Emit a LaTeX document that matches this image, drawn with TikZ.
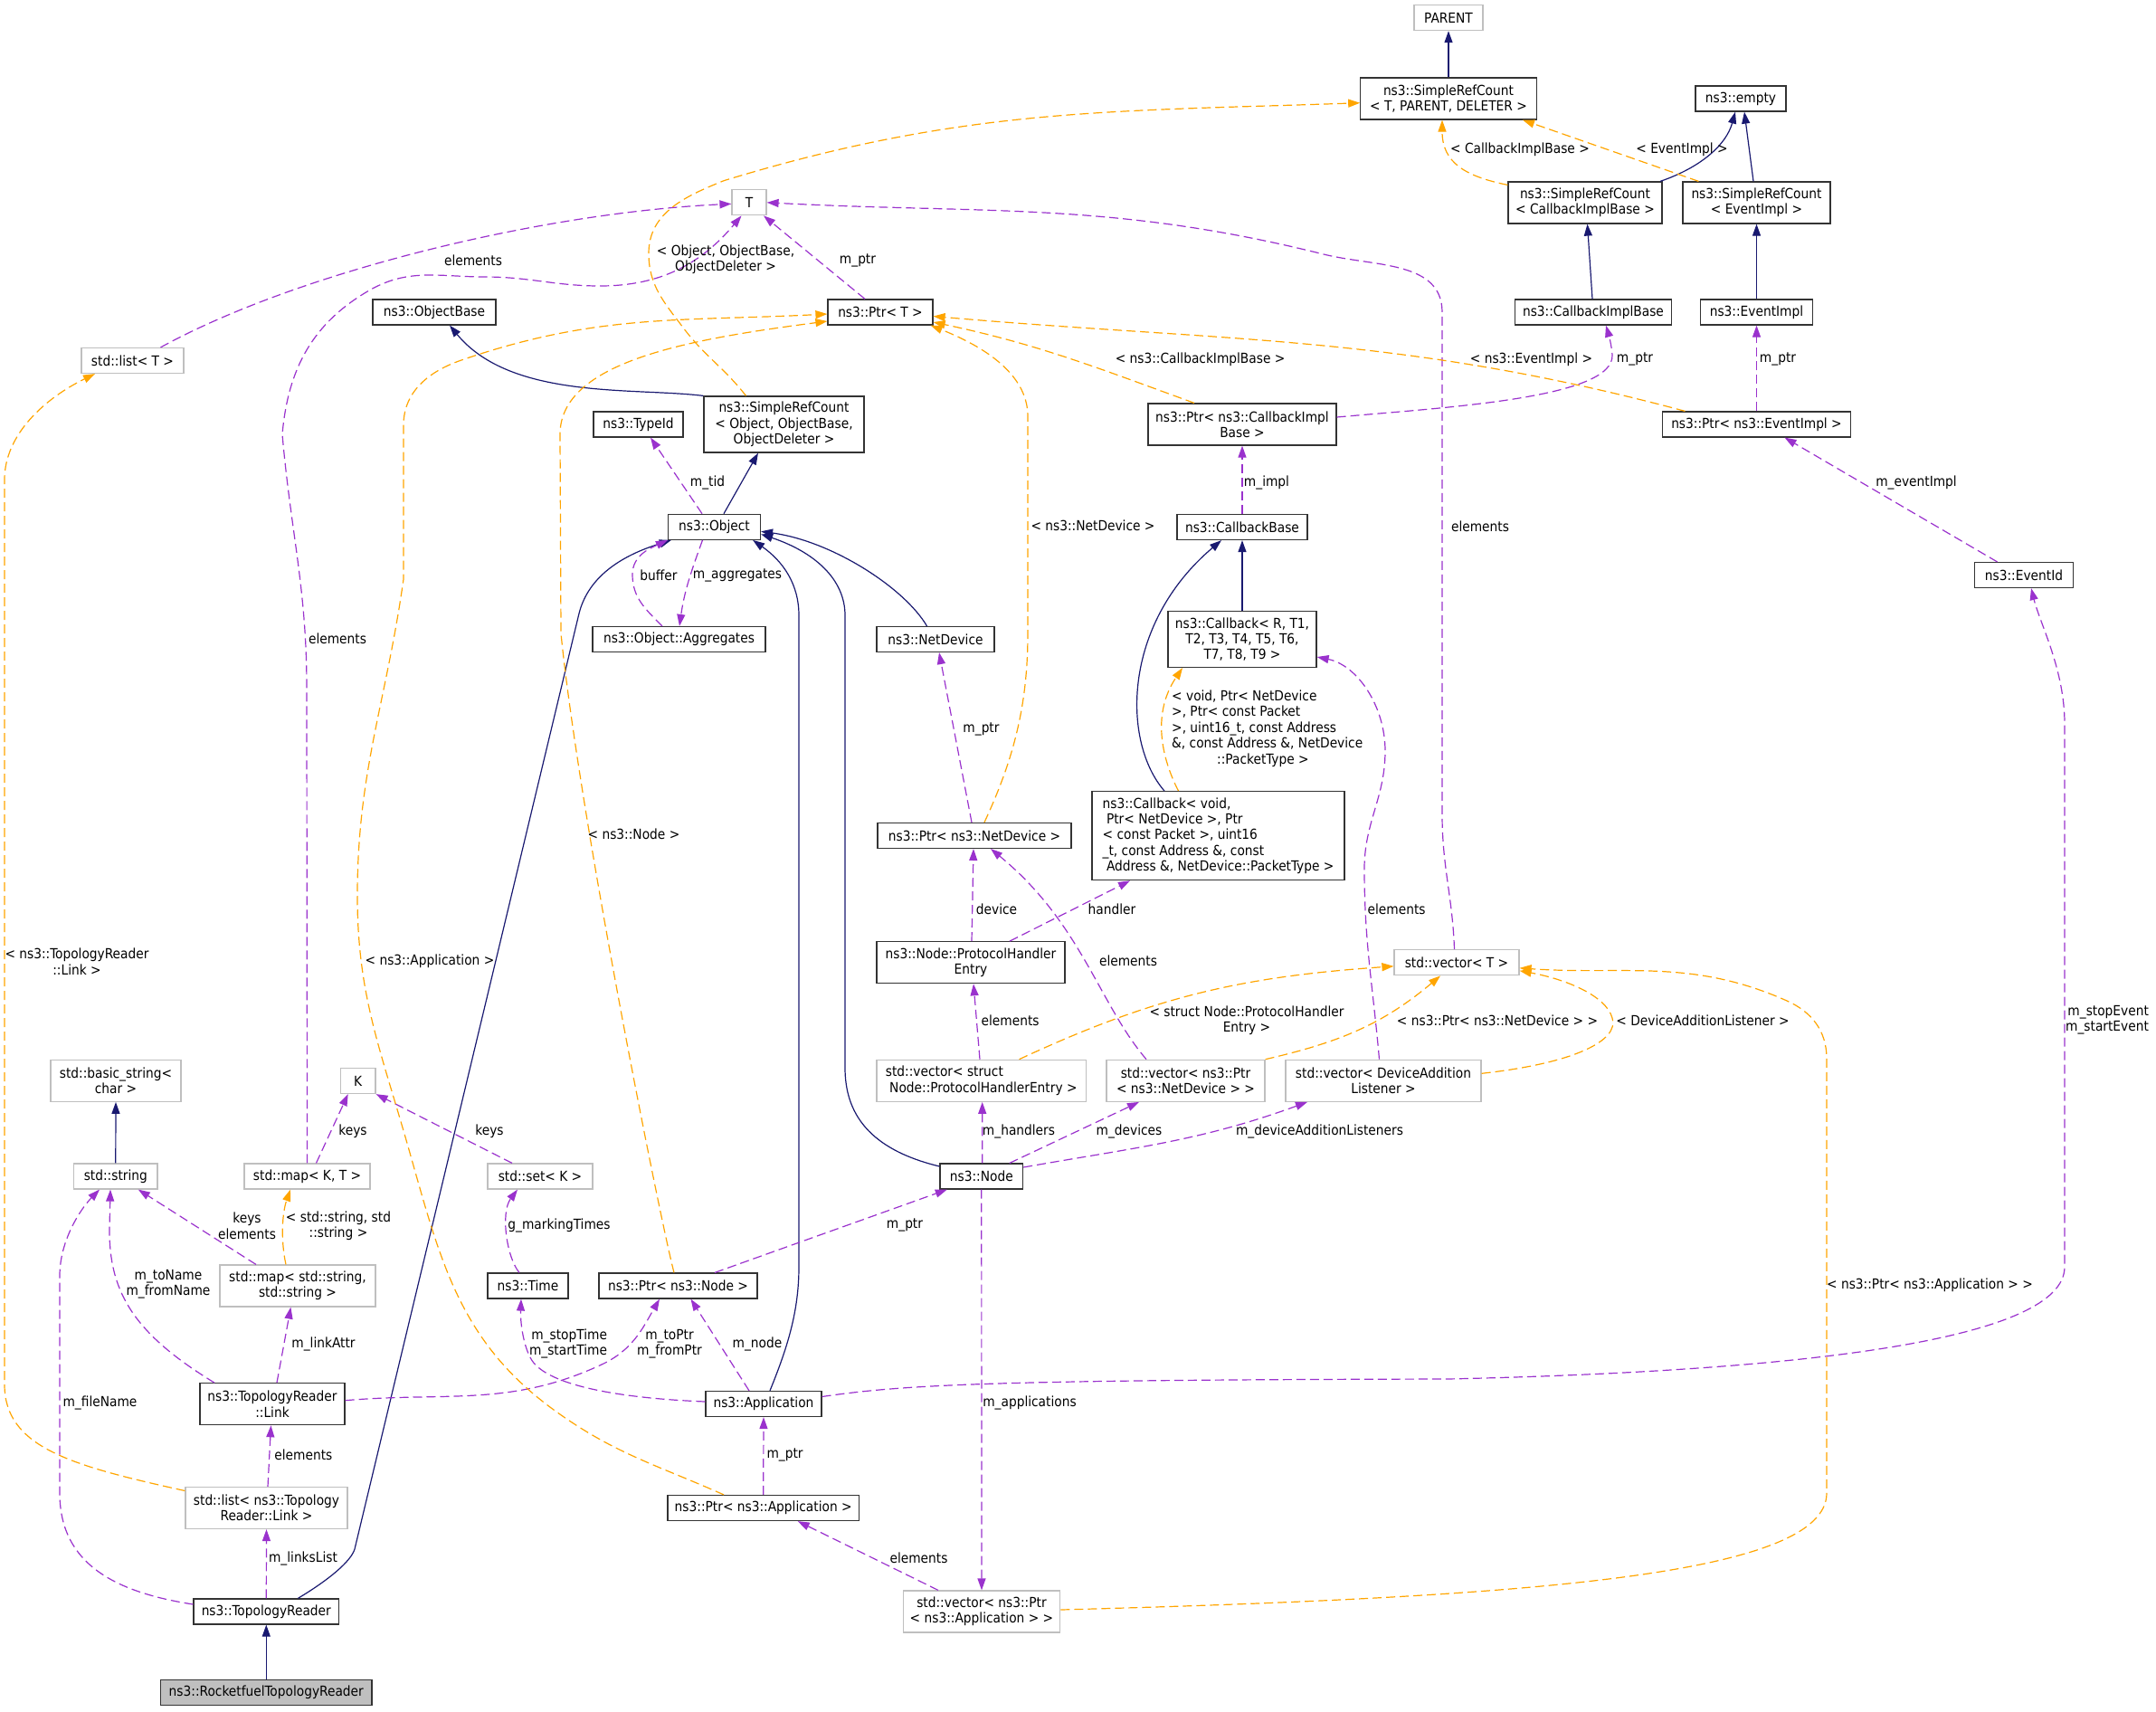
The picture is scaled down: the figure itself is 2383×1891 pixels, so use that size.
\documentclass[tikz,border=0pt]{standalone}
\usepackage{fontspec}
\IfFontExistsTF{DejaVu Sans Condensed}{\setmainfont{DejaVu Sans Condensed}}{\setmainfont{DejaVu Sans}[FakeStretch=0.9]}
\usetikzlibrary{arrows.meta}
\definecolor{navy}{HTML}{191970}
\definecolor{usepurple}{HTML}{9A32CD}
\definecolor{tplorange}{HTML}{FFA500}
\definecolor{extgray}{HTML}{BFBFBF}
\newcommand{\dfont}{\fontsize{15.3}{17.4}\selectfont}
\tikzset{
    cls/.style={draw=black!80, line width=1.2pt, fill=white, inner sep=0pt, align=center, minimum height=28pt, font=\dfont},
    ext/.style={cls, draw=extgray},
    cur/.style={cls, fill=extgray},
    lbl/.style={inner sep=0pt, align=center, font=\dfont},
    inh/.style={draw=navy, line width=1.2pt, -{Triangle[length=13pt,width=9pt]}},
    use/.style={draw=usepurple, line width=1.2pt, dash pattern=on 10pt off 5pt, -{Triangle[length=13pt,width=9pt]}},
    tpl/.style={use, draw=tplorange}
}
\begin{document}
\begin{tikzpicture}[x=1pt,y=1pt]
        \useasboundingbox (0,0) rectangle (2383,-1891);

        \node[ext, minimum width=76] (parent) at (1601,-19.6) {PARENT};
        \node[cls, minimum width=194.5, minimum height=46] (srcbase) at (1601,-109) {ns3::SimpleRefCount\\< T, PARENT, DELETER >};
        \node[cls, minimum width=100] (empty) at (1924,-109) {ns3::empty};
        \node[cls, minimum width=170, minimum height=46] (srccib) at (1752,-224) {ns3::SimpleRefCount\\< CallbackImplBase >};
        \node[cls, minimum width=163, minimum height=46] (srcei) at (1941.5,-224) {ns3::SimpleRefCount\\< EventImpl >};
        \node[ext, minimum width=38] (t) at (828,-223.8) {T};
        \node[ext, minimum width=113] (listt) at (146.5,-398.5) {std::list< T >};
        \node[cls, minimum width=136] (objbase) at (480,-345) {ns3::ObjectBase};
        \node[cls, minimum width=116] (ptrt) at (973,-345) {ns3::Ptr< T >};
        \node[cls, minimum width=172.5] (cib) at (1761,-345) {ns3::CallbackImplBase};
        \node[cls, minimum width=124] (eimpl) at (1941.5,-345) {ns3::EventImpl};
        \node[cls, minimum width=99] (typeid) at (705.5,-469) {ns3::TypeId};
        \node[cls, minimum width=177, minimum height=62] (srcobj) at (866.5,-469) {ns3::SimpleRefCount\\< Object, ObjectBase,\\ObjectDeleter >};
        \node[cls, minimum width=208, minimum height=46] (ptrcib) at (1373,-469) {ns3::Ptr< ns3::CallbackImpl\\Base >};
        \node[cls, minimum width=208] (ptrei) at (1941.5,-469) {ns3::Ptr< ns3::EventImpl >};
        \node[cls, minimum width=102] (object) at (789.5,-582.3) {ns3::Object};
        \node[cls, minimum width=144] (cbbase) at (1373,-582.5) {ns3::CallbackBase};
        \node[cls, minimum width=108.5] (eventid) at (2237,-635.5) {ns3::EventId};
        \node[cls, minimum width=191] (aggr) at (750.5,-706.5) {ns3::Object::Aggregates};
        \node[cls, minimum width=130] (netdev) at (1034,-706.5) {ns3::NetDevice};
        \node[cls, minimum width=164, minimum height=62] (cbr) at (1373,-706.5) {ns3::Callback< R, T1,\\T2, T3, T4, T5, T6,\\T7, T8, T9 >};
        \node[cls, minimum width=279, minimum height=98, align=left] (cbvoid) at (1346.5,-923.7) {ns3::Callback< void,\\\ Ptr< NetDevice >, Ptr\\< const Packet >, uint16\\\_t, const Address \&, const\\\ Address \&, NetDevice::PacketType >};
        \node[cls, minimum width=214] (ptrnd) at (1077,-923.4) {ns3::Ptr< ns3::NetDevice >};
        \node[cls, minimum width=208, minimum height=46] (phe) at (1073,-1063.7) {ns3::Node::ProtocolHandler\\Entry};
        \node[ext, minimum width=138] (vect) at (1610,-1063.8) {std::vector< T >};
        \node[ext, minimum width=144, minimum height=46] (bstr) at (128,-1194.3) {std::basic\_string<\\char >};
        \node[ext, minimum width=38.5] (k) at (395.7,-1194.5) {K};
        \node[ext, minimum width=231.5, minimum height=46, align=left] (vecphe) at (1084.7,-1194.3) {std::vector< struct\\\ Node::ProtocolHandlerEntry >};
        \node[ext, minimum width=175, minimum height=46] (vecnd) at (1310.5,-1194.3) {std::vector< ns3::Ptr\\< ns3::NetDevice > >};
        \node[ext, minimum width=216, minimum height=46] (vecdal) at (1529,-1194.3) {std::vector< DeviceAddition\\Listener >};
        \node[ext, minimum width=92.4] (str) at (127.8,-1300) {std::string};
        \node[ext, minimum width=139] (mapkt) at (339.5,-1300) {std::map< K, T >};
        \node[ext, minimum width=116] (setk) at (597,-1300) {std::set< K >};
        \node[cls, minimum width=91.6] (nsnode) at (1084.8,-1300) {ns3::Node};
        \node[ext, minimum width=172, minimum height=46] (mapss) at (329,-1421) {std::map< std::string,\\std::string >};
        \node[cls, minimum width=89] (time) at (583.5,-1421) {ns3::Time};
        \node[cls, minimum width=175] (ptrnode) at (749.5,-1421) {ns3::Ptr< ns3::Node >};
        \node[cls, minimum width=160, minimum height=46] (link) at (301,-1551.7) {ns3::TopologyReader\\::Link};
        \node[cls, minimum width=128] (app) at (844,-1551.5) {ns3::Application};
        \node[ext, minimum width=179, minimum height=46] (listlink) at (294.5,-1666.5) {std::list< ns3::Topology\\Reader::Link >};
        \node[cls, minimum width=211.5] (ptrapp) at (843.7,-1666.5) {ns3::Ptr< ns3::Application >};
        \node[cls, minimum width=160.5] (reader) at (294.3,-1781) {ns3::TopologyReader};
        \node[ext, minimum width=173.5, minimum height=46] (vecapp) at (1085,-1781) {std::vector< ns3::Ptr\\< ns3::Application > >};
        \node[cur, minimum width=233.5] (rocket) at (294.3,-1870.7) {ns3::RocketfuelTopologyReader};

        \draw[inh] (srcbase.north) -- (parent.south);
        \draw[inh] ([xshift=83]srccib.north) .. controls (1880,-185) and (1908,-160) .. ([xshift=-6]empty.south);
        \draw[inh] ([xshift=-3.5]srcei.north) -- ([xshift=4]empty.south);
        \draw[inh] ([xshift=-1]cib.north) -- ([xshift=2.5]srccib.south);
        \draw[inh] (eimpl.north) -- (srcei.south);
        \draw[inh] (srcobj.north west) .. controls (700,-428) and (565,-442) .. ([xshift=17]objbase.south);
        \draw[inh] ([xshift=10.5]object.north) -- ([xshift=-28.5]srcobj.south);
        \draw[inh] ([xshift=-9.5]netdev.north) .. controls (1000,-650) and (920,-598) .. ([yshift=-5]object.east);
        \draw[inh] ([yshift=11]nsnode.west) .. controls (960,-1270) and (934,-1230) .. (934,-1180) -- (934,-680) .. controls (934,-640) and (900,-610) .. ([yshift=-8]object.east);
        \draw[inh] ([xshift=7]app.north) .. controls (870,-1490) and (883,-1450) .. (883,-1400) -- (883,-680) .. controls (883,-645) and (865,-620) .. ([xshift=-9]object.south east);
        \draw[inh] ([xshift=35]reader.north) .. controls (365,-1745) and (388,-1725) .. (392,-1712) -- (640,-678) .. controls (652,-630) and (700,-610) .. ([xshift=4]object.south west);
        \draw[inh] (cbr.north) -- (cbbase.south);
        \draw[inh] ([xshift=-59.5]cbvoid.north) .. controls (1240,-820) and (1240,-690) .. ([xshift=-23]cbbase.south);
        \draw[inh] (rocket.north) -- (reader.south);
        \draw[inh] (str.north) -- (bstr.south);

        \draw[use] ([xshift=31]listt.north) .. controls (330,-300) and (600,-235) .. ([yshift=-1.5]t.west);
        \draw[use] (mapkt.north) -- (339,-760) to[out=90,in=-85] (312,-480) to[out=85,in=-150] (408,-321) to[out=30,in=180] (536,-306) to[out=0,in=180] (663,-316) to[out=0,in=-130] ([xshift=-8.5]t.south);
        \draw[use] ([xshift=-17]ptrt.north) -- ([xshift=16]t.south);
        \draw[use] ([xshift=-2.5]vect.north) to[out=92,in=-90] (1594,-900) -- (1594,-345) to[out=90,in=-14] (1463,-281) to[out=166,in=-3] (t.east);
        \draw[use] ([xshift=-13.5]object.north) -- ([xshift=13.5]typeid.south);
        \draw[use] ([xshift=-13]object.south) to[out=-110,in=82] ([xshift=0.5]aggr.north);
        \draw[use] ([xshift=-18.5]aggr.north) to[out=135,in=-90] (699,-635) to[out=90,in=-155] (object.south west);
        \draw[use] ([yshift=8]ptrcib.east) .. controls (1600,-450) and (1785,-440) .. (1782,-392) .. controls (1781,-380) and (1778,-370) .. ([xshift=14]cib.south);
        \draw[use] (ptrei.north) -- (eimpl.south);
        \draw[use] (cbbase.north) -- (ptrcib.south);
        \draw[use] ([xshift=-29.5]eventid.north) -- ([xshift=31]ptrei.south);
        \draw[use] ([xshift=-3]ptrnd.north) -- ([xshift=4]netdev.south);
        \draw[use] ([xshift=1]phe.north) -- ([xshift=-1]ptrnd.south);
        \draw[use] ([xshift=43]phe.north) -- ([xshift=-97.5]cbvoid.south);
        \draw[use] ([xshift=-43.5]vecnd.north) .. controls (1215,-1110) and (1195,-1020) .. ([xshift=18]ptrnd.south);
        \draw[use] ([xshift=-4.5]vecdal.north) to[out=95,in=-90] (1508,-960) to[out=90,in=-90] (1531,-830) .. controls (1531,-780) and (1500,-735) .. ([yshift=-19.5]cbr.east);
        \draw[use] ([xshift=-1.7]vecphe.north) -- ([xshift=3]phe.south);
        \draw[use] ([xshift=1]nsnode.north) -- ([xshift=1]vecphe.south);
        \draw[use] ([xshift=31]nsnode.north) -- ([xshift=-51.5]vecnd.south);
        \draw[use] ([yshift=10]nsnode.east) to[out=10,in=-160] ([xshift=-84]vecdal.south);
        \draw[use] ([yshift=8]app.east) .. controls (1000,-1530) and (1100,-1525) .. (1600,-1524) .. controls (2000,-1515) and (2282,-1480) .. (2282,-1400) -- (2282,-800) .. controls (2282,-740) and (2255,-690) .. ([xshift=8]eventid.south);
        \draw[use] ([xshift=-46]mapss.north) -- ([xshift=25]str.south);
        \draw[use] ([xshift=-64]link.north) .. controls (150,-1475) and (121,-1430) .. (121,-1360) -- ([xshift=-5.8]str.south);
        \draw[use] ([yshift=8]reader.west) .. controls (130,-1760) and (66,-1730) .. (66,-1650) -- (66,-1410) .. controls (66,-1370) and (90,-1335) .. ([xshift=-17.8]str.south);
        \draw[use] ([xshift=10]mapkt.north) -- ([xshift=-11]k.south);
        \draw[use] ([xshift=-31]setk.north) -- (k.south east);
        \draw[use] ([xshift=-9.5]time.north) .. controls (560,-1390) and (553,-1340) .. ([xshift=-25]setk.south);
        \draw[use] ([xshift=5]link.north) -- ([xshift=-7.6]mapss.south);
        \draw[use] ([xshift=1.5]listlink.north) -- ([xshift=-1.5]link.south);
        \draw[use] (reader.north) -- (listlink.south);
        \draw[use] ([xshift=40.5]ptrnode.north) -- ([xshift=-38]nsnode.south);
        \draw[use] ([xshift=-16]app.north) -- ([xshift=14]ptrnode.south);
        \draw[use] ([yshift=4]link.east) to[out=5,in=205] (665,-1508) to[out=25,in=-120] ([xshift=-20.5]ptrnode.south);
        \draw[use] ([yshift=2.5]app.west) .. controls (680,-1545) and (600,-1530) .. (586,-1500) .. controls (578,-1485) and (575,-1460) .. ([xshift=-7.5]time.south);
        \draw[use] (ptrapp.north) -- (app.south);
        \draw[use] ([xshift=-48]vecapp.north) -- ([xshift=38]ptrapp.south);
        \draw[use] (nsnode.south) -- (vecapp.north);

        \draw[tpl] ([xshift=-42]srcobj.north) to[out=128,in=-53] (755,-362) to[out=127,in=-90] (717,-280) to[out=90,in=-158] (800,-199.7) to[out=17,in=182] ([yshift=-4.7]srcbase.west);
        \draw[tpl] ([yshift=-4]srccib.north west) .. controls (1620,-195) and (1594,-180) .. ([xshift=-7]srcbase.south);
        \draw[tpl] ([xshift=-64]srcei.north) -- ([xshift=82]srcbase.south);
        \draw[tpl] ([xshift=-53]ptrcib.north) to[out=160,in=-12] ([yshift=-11]ptrt.east);
        \draw[tpl] ([xshift=-79]ptrei.north) to[out=165,in=-5] ([yshift=-4.5]ptrt.east);
        \draw[tpl] ([xshift=11]ptrnd.north) .. controls (1120,-840) and (1136,-780) .. (1136,-700) -- (1136,-460) .. controls (1136,-410) and (1080,-380) .. ([xshift=-3]ptrt.south east);
        \draw[tpl] ([xshift=-4.5]ptrnode.north) .. controls (730,-1350) and (640,-900) .. (620,-700) -- (619,-480) .. controls (619,-400) and (760,-375) .. ([yshift=-10]ptrt.west);
        \draw[tpl] ([xshift=-43.7]ptrapp.north) to[out=156,in=-36] (612,-1558) to[out=144,in=-74] (449,-1260) to[out=106,in=-90] (395,-990) to[out=90,in=-98] (446,-640) -- (446,-470) to[out=90,in=-161] (510,-398) to[out=19,in=183] ([yshift=-2]ptrt.west);
        \draw[tpl] ([yshift=19]listlink.west) .. controls (80,-1620) and (5,-1600) .. (5,-1530) -- (5,-530) .. controls (5,-480) and (50,-440) .. ([xshift=-41.5]listt.south);
        \draw[tpl] ([xshift=-13]mapss.north) .. controls (310,-1370) and (312,-1340) .. ([xshift=-18.5]mapkt.south);
        \draw[tpl] ([xshift=-44]cbvoid.north) .. controls (1285,-840) and (1272,-790) .. ([xshift=-66]cbr.south);
        \draw[tpl] ([xshift=41.8]vecphe.north) to[out=25,in=184] ([yshift=-4]vect.west);
        \draw[tpl] (vecnd.north east) to[out=13,in=-140] ([xshift=-18]vect.south);
        \draw[tpl] ([yshift=8]vecdal.east) .. controls (1740,-1175) and (1790,-1150) .. (1782,-1125) .. controls (1775,-1100) and (1730,-1082) .. ([yshift=-9]vect.east);
        \draw[tpl] ([yshift=2]vecapp.east) .. controls (1700,-1765) and (2019,-1740) .. (2019,-1650) -- (2019,-1170) to[out=90,in=-24] (1975,-1106) to[out=156,in=-4] ([yshift=-6]vect.east);

        \node[lbl] (lab-srcobj) at (802,-287) {< Object, ObjectBase,\\ObjectDeleter >};
        \node[lbl] (lab-srccib) at (1680,-165) {< CallbackImplBase >};
        \node[lbl] (lab-srcei) at (1859,-165) {< EventImpl >};
        \node[lbl] (lab-listt) at (523,-288) {elements};
        \node[lbl] (lab-ptrt) at (948,-288) {m\_ptr};
        \node[lbl] (lab-ptrcib) at (1326.6,-397) {< ns3::CallbackImplBase >};
        \node[lbl] (lab-ptrei) at (1692.5,-397) {< ns3::EventImpl >};
        \node[lbl] (lab-cibptr) at (1807,-397) {m\_ptr};
        \node[lbl] (lab-eiptr) at (1965,-397) {m\_ptr};
        \node[lbl] (lab-tid) at (782,-533) {m\_tid};
        \node[lbl] (lab-impl) at (1400,-533) {m\_impl};
        \node[lbl] (lab-evimpl) at (2118,-533) {m\_eventImpl};
        \node[lbl] (lab-ndtpl) at (1208,-581) {< ns3::NetDevice >};
        \node[lbl] (lab-vect) at (1636,-582) {elements};
        \node[lbl] (lab-buffer) at (728,-636) {buffer};
        \node[lbl] (lab-aggr) at (815,-636) {m\_aggregates};
        \node[lbl] (lab-mapkt) at (373,-706) {elements};
        \node[lbl, anchor=west, align=left] (lab-cbvoid) at (1295,-805) {< void, Ptr< NetDevice\\>, Ptr< const Packet\\>, uint16\_t, const Address\\\&, const Address \&, NetDevice\\\hspace*{50pt}::PacketType >};
        \node[lbl] (lab-ndptr) at (1084.5,-806) {m\_ptr};
        \node[lbl] (lab-nodetpl) at (700.5,-922) {< ns3::Node >};
        \node[lbl] (lab-device) at (1101.5,-1005) {device};
        \node[lbl] (lab-handler) at (1229,-1005) {handler};
        \node[lbl] (lab-dal) at (1543.6,-1005) {elements};
        \node[lbl] (lab-linktpl) at (85,-1062.5) {< ns3::TopologyReader\\::Link >};
        \node[lbl] (lab-apptpl) at (475,-1062) {< ns3::Application >};
        \node[lbl] (lab-vecnd) at (1247,-1062) {elements};
        \node[lbl] (lab-phe) at (1116.6,-1128) {elements};
        \node[lbl] (lab-phetpl) at (1378,-1127.5) {< struct Node::ProtocolHandler\\Entry >};
        \node[lbl] (lab-ndvtpl) at (1655,-1128) {< ns3::Ptr< ns3::NetDevice > >};
        \node[lbl] (lab-daltpl) at (1882,-1128) {< DeviceAdditionListener >};
        \node[lbl, align=right] (lab-event) at (2329,-1127) {m\_stopEvent\\m\_startEvent};
        \node[lbl] (lab-kmap) at (390,-1250) {keys};
        \node[lbl] (lab-kset) at (541,-1250) {keys};
        \node[lbl] (lab-handlers) at (1126,-1250) {m\_handlers};
        \node[lbl] (lab-devices) at (1248,-1250) {m\_devices};
        \node[lbl] (lab-listeners) at (1458.5,-1250) {m\_deviceAdditionListeners};
        \node[lbl] (lab-strmap) at (273,-1354.6) {keys\\elements};
        \node[lbl] (lab-sstpl) at (374,-1354.6) {< std::string, std\\::string >};
        \node[lbl] (lab-marking) at (618,-1354) {g\_markingTimes};
        \node[lbl] (lab-nodeptr) at (1000,-1354) {m\_ptr};
        \node[lbl] (lab-names) at (186,-1419.5) {m\_toName\\m\_fromName};
        \node[lbl] (lab-appvtpl) at (2133,-1420) {< ns3::Ptr< ns3::Application > >};
        \node[lbl] (lab-linkattr) at (357.5,-1485) {m\_linkAttr};
        \node[lbl, align=right] (lab-times) at (628,-1485) {m\_stopTime\\m\_startTime};
        \node[lbl] (lab-ptrs) at (740,-1485) {m\_toPtr\\m\_fromPtr};
        \node[lbl] (lab-mnode) at (837,-1485) {m\_node};
        \node[lbl] (lab-filename) at (110.5,-1550) {m\_fileName};
        \node[lbl] (lab-apps) at (1138,-1550) {m\_applications};
        \node[lbl] (lab-links) at (335.4,-1608) {elements};
        \node[lbl] (lab-appptr) at (867.6,-1608) {m\_ptr};
        \node[lbl] (lab-linkslist) at (335,-1722) {m\_linksList};
        \node[lbl] (lab-vecapp) at (1015.5,-1722) {elements};
\end{tikzpicture}
\end{document}
